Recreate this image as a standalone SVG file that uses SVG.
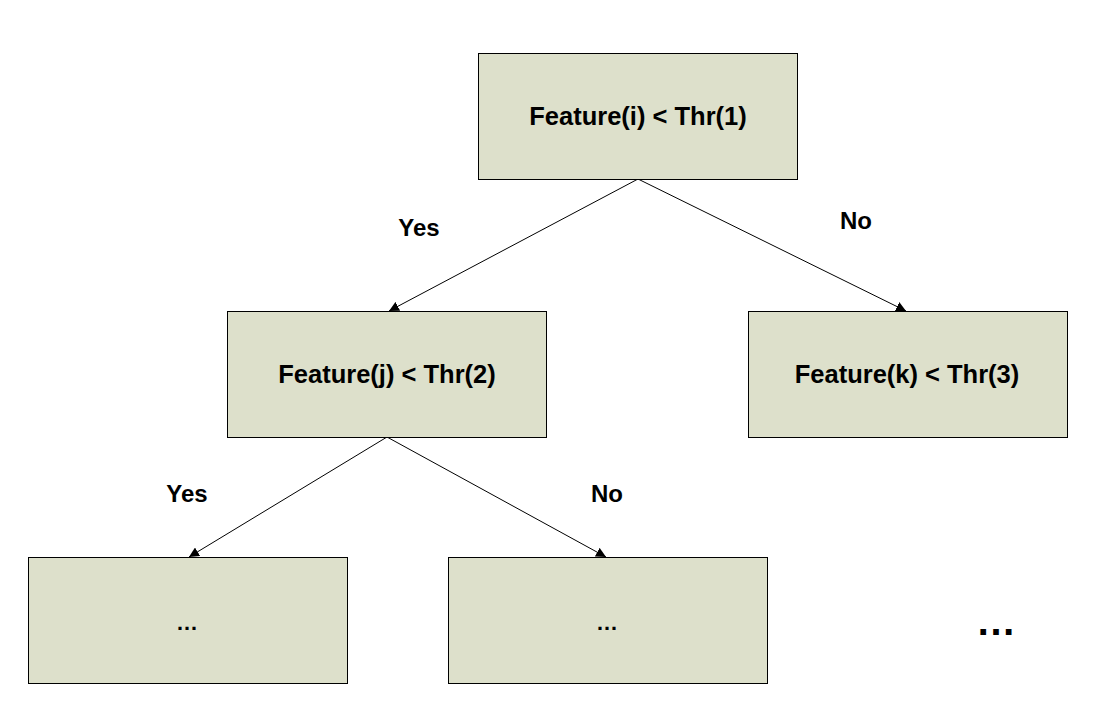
<svg xmlns="http://www.w3.org/2000/svg" width="1102" height="716" viewBox="0 0 1102 716">
<style>
.box{fill:#dde0cb;stroke:#000;stroke-width:1}
.t{font-family:"Liberation Sans",Arial,sans-serif;font-weight:bold;font-size:25.5px;fill:#000;text-anchor:middle;dominant-baseline:central}
.l{font-size:24px}
.c{stroke:#000;stroke-width:1;fill:none;marker-end:url(#ah)}
</style>
<defs>
<marker id="ah" viewBox="0 0 10 10" refX="10" refY="5" markerWidth="10" markerHeight="10" markerUnits="userSpaceOnUse" orient="auto">
<path d="M0,0 L10,5 L0,10 z" fill="#000"/>
</marker>
</defs>
<rect width="1102" height="716" fill="#fff"/>
<g id="connectors">
<line class="c" x1="638" y1="179" x2="389" y2="311"/>
<line class="c" x1="638" y1="179" x2="906" y2="311"/>
<line class="c" x1="387" y1="437" x2="189" y2="557"/>
<line class="c" x1="387" y1="437" x2="606" y2="557"/>
<text class="t l" x="419" y="227">Yes</text>
<text class="t l" x="856" y="220">No</text>
<text class="t l" x="187" y="493">Yes</text>
<text class="t l" x="607" y="493">No</text>
</g>
<g id="n1"><rect class="box" x="478.5" y="53.5" width="319" height="126"/><text class="t" x="638" y="116">Feature(i) &lt; Thr(1)</text></g>
<g id="n2"><rect class="box" x="227.5" y="311.5" width="319" height="126"/><text class="t" x="387" y="374">Feature(j) &lt; Thr(2)</text></g>
<g id="n3"><rect class="box" x="748.5" y="311.5" width="319" height="126"/><text class="t" x="907" y="374">Feature(k) &lt; Thr(3)</text></g>
<g id="n4"><rect class="box" x="28.5" y="557.5" width="319" height="126"/><text class="t" x="187" y="622" style="font-size:22px">…</text></g>
<g id="n5"><rect class="box" x="448.5" y="557.5" width="319" height="126"/><text class="t" x="607" y="622" style="font-size:22px">…</text></g>
<g id="more"><text class="t" x="996" y="621" style="font-size:40px">…</text></g>
</svg>
